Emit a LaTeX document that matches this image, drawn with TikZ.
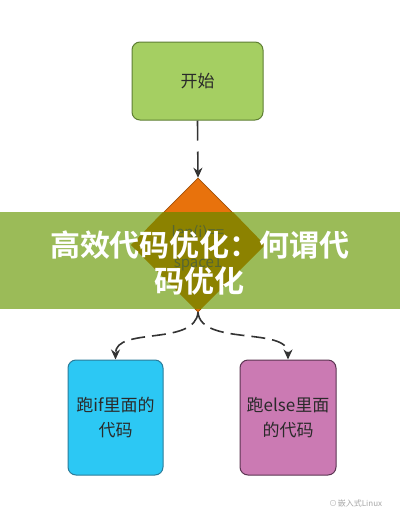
\documentclass[tikz,border=0pt]{standalone}
\usepackage{fontspec}
\newfontfamily\cjk{Noto Sans CJK SC}
\newfontfamily\cjkbold{Noto Sans CJK SC Bold}
\usetikzlibrary{arrows.meta,shapes.geometric}
\definecolor{startfill}{HTML}{A5CF62}
\definecolor{startdraw}{HTML}{5E7F34}
\definecolor{diafill}{HTML}{E8720C}
\definecolor{iffill}{HTML}{2CC8F4}
\definecolor{ifdraw}{HTML}{2B7C9A}
\definecolor{elsefill}{HTML}{CB7AB3}
\definecolor{elsedraw}{HTML}{5B3552}
\definecolor{conncol}{HTML}{333333}
\definecolor{bannercol}{HTML}{9BBB58}
\definecolor{olivecol}{HTML}{8C8200}
\definecolor{diatxt}{HTML}{566632}
\definecolor{txtcol}{HTML}{2A2A2A}
\tikzset{
  box/.style={draw, rounded corners=8pt, line width=1pt, align=center,
    font=\cjk\fontsize{17}{25}\selectfont, text=txtcol, inner sep=0pt},
  conn/.style={draw=conncol, line width=1.6pt, dash pattern=on 14pt off 7pt,
    -{Stealth[length=10pt,width=9pt]}},
}
\begin{document}
\begin{tikzpicture}[x=1pt,y=1pt]
\useasboundingbox (0,0) rectangle (400,-523);
\fill[white] (0,0) rectangle (400,-523);
% start box
\node[box, fill=startfill, draw=startdraw, minimum width=131pt, minimum height=78pt] (start) at (197.5,-81) {开始};
% diamond
\node[draw=diafill!70!black, line width=0.6pt, fill=diafill, diamond, aspect=1, minimum width=134pt, minimum height=134pt, inner sep=0pt] (dia) at (198,-245) {};
% branch boxes
\node[box, fill=iffill, draw=ifdraw, minimum width=95pt, minimum height=115pt] (ifbox) at (115.5,-417.5) {跑if里面的\\代码};
\node[box, fill=elsefill, draw=elsedraw, minimum width=96pt, minimum height=115pt] (elsebox) at (288,-417.5) {跑else里面\\的代码};
% connectors
\draw[conn, dash pattern=on 20pt off 11pt] (start.south) -- (dia.north);
\draw[conn] (dia.south) .. controls +(-3,-34) and +(0,33) .. (ifbox.north);
\draw[conn] (dia.south) .. controls +(3,-34) and +(0,33) .. (elsebox.north);
% banner
\fill[bannercol] (0,-212) rectangle (400,-309);
\fill[olivecol] (163,-212) -- (233,-212) -- (265,-245) -- (201,-309) -- (195,-309) -- (131,-245) -- cycle;
\node[font=\cjk\fontsize{15}{30}\selectfont, text=diatxt, align=center] (diatext) at (198,-248) {len(i)==\\space1};
\node[font=\cjkbold\fontsize{30}{36}\selectfont, text=white, align=center] (title) at (200,-263) {高效代码优化：何谓代\\码优化};
% watermark
\node[font=\cjk\fontsize{8}{10}\selectfont, text=black!35] (wm) at (360,-503) {嵌入式Linux};
\node[font=\cjk\fontsize{8}{10}\selectfont, text=black!30] (wmicon) at (333,-503) {⊙};
\end{tikzpicture}
\end{document}
